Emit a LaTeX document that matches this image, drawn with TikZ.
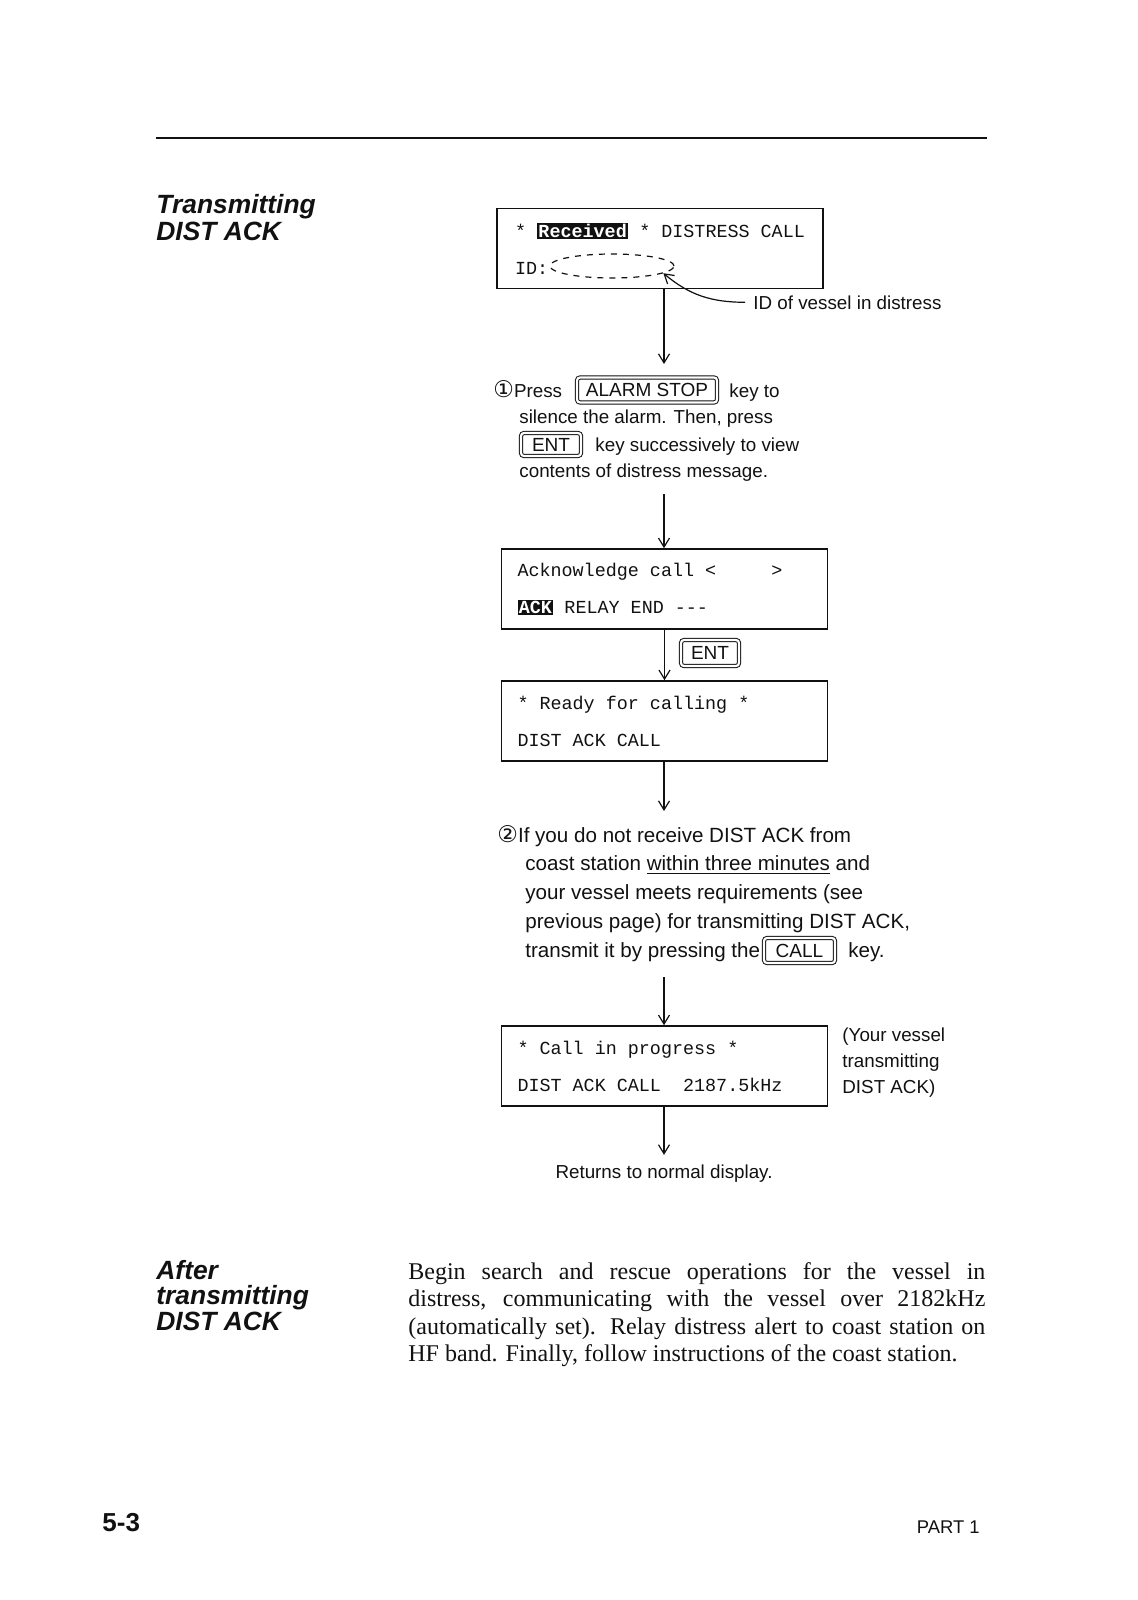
\documentclass[tikz,border=0pt]{standalone}
\usepackage{fontspec}
\setmainfont{Liberation Serif}
\setsansfont{Liberation Sans}
\setmonofont{Liberation Mono}
\newfontfamily\circfont{DejaVu Sans}
\usepackage{tikz}
\usetikzlibrary{arrows.meta,positioning,shapes.geometric}
\definecolor{ink}{HTML}{111111}
\newcommand{\lcdfont}{\ttfamily\fontsize{9.2}{18.5}\selectfont}
\newcommand{\sk}{\hspace*{0.6em}}
\newcommand{\notefont}{\sffamily\fontsize{9.4}{13.2}\selectfont}
\newcommand{\stepfont}{\sffamily\fontsize{10.3}{14}\selectfont}
\newcommand{\headfont}{\sffamily\bfseries\itshape\fontsize{13.2}{13.3}\selectfont}
\newcommand{\keyfont}{\sffamily\fontsize{9.5}{10}\selectfont}
\newcommand{\circnum}[1]{{\circfont\fontsize{11.5}{12}\selectfont #1}}
\newcommand{\revvideo}[1]{{\setlength{\fboxsep}{0.7pt}\colorbox{ink}{\textcolor{white}{\bfseries #1}}}}
\tikzset{
  lcdbox/.style={draw=ink, line width=0.8pt, align=left, text width=147pt,
    inner xsep=8pt, minimum height=40pt, font=\lcdfont},
  keycap/.style={draw=ink, double, double distance=1.1pt, line width=0.5pt,
    rounded corners=1.5pt, inner sep=0pt, font=\keyfont},
  arr/.style={-{Straight Barb[length=4.5pt,width=5.5pt]}, line width=0.6pt, draw=ink},
  noteline/.style={anchor=base west, inner sep=0pt, font=\notefont},
  stepline/.style={anchor=base west, inner sep=0pt, font=\stepfont},
  headtext/.style={anchor=north west, inner sep=0pt, align=left, font=\headfont}
}

\begin{document}
\begin{tikzpicture}[x=0.5pt, y=-0.5pt, text=ink]
  \useasboundingbox (0,0) rectangle (1138,1600);
  \draw[ink, line width=0.8pt] (156,138) -- (987,138);
  \node[headtext] (headtx) at (156,194) {Transmitting\\DIST ACK};

  % incoming distress call
  \node[lcdbox, inner xsep=9pt, text width=145pt] (rcv) at (660,248.5)
    {*\sk\revvideo{Received}\sk*\sk DISTRESS\sk CALL\\ID:};
  \node[ellipse, draw=ink, dashed, line width=0.6pt, minimum width=62pt,
    minimum height=12pt, inner sep=0pt] (idfield) at (612,266) {};
  \node[noteline, inner xsep=4pt] (idnote) at (745,309) {ID of vessel in distress};
  \draw[arr] (idnote.west) to[out=180, in=-40] (idfield.-8);

  % step 1
  \coordinate (s1in) at (664,364);
  \draw[arr] (rcv.south -| s1in) -- (s1in);
  \node[noteline] (press) at (493,397) {\circnum{①}Press};
  \node[keycap, minimum width=70pt, minimum height=12.5pt] (alarmkey) at (647,390) {ALARM STOP};
  \node[noteline] (keyto) at (729,397) {key to};
  \node[noteline] (silence) at (519,423) {silence the alarm. Then, press};
  \node[keycap, minimum width=30pt, minimum height=11.5pt] (entkey) at (551,444.5) {ENT};
  \node[noteline] (succ) at (595,451) {key successively to view};
  \node[noteline] (contents) at (519,477) {contents of distress message.};

  % acknowledge menu
  \coordinate (s1out) at (664,494);
  \node[lcdbox] (ack) at (664.5,589)
    {Acknowledge\sk call\sk<\sk\sk\sk\sk\sk>\\\revvideo{ACK}\sk RELAY\sk END\sk-{}-{}-};
  \draw[arr] (s1out) -- (s1out |- ack.north);
  \node[lcdbox] (ready) at (664.5,721) {*\sk Ready\sk for\sk calling\sk*\\DIST\sk ACK\sk CALL};
  \draw[arr] (ack) -- (ready);
  \node[keycap, minimum width=29pt, minimum height=13pt] (entkey2) at (710,653) {ENT};

  % step 2
  \coordinate (s2in) at (664,811);
  \draw[arr] (ready.south -| s2in) -- (s2in);
  \node[stepline] (cond1) at (497,842) {\circnum{②}If you do not receive DIST ACK from};
  \node[stepline] (cond2) at (525,870) {coast station \underline{within three minutes} and};
  \node[stepline] (cond3) at (525,899) {your vessel meets requirements (see};
  \node[stepline] (cond4) at (525,928) {previous page) for transmitting DIST ACK,};
  \node[stepline] (cond5) at (525,957) {transmit it by pressing the};
  \node[keycap, minimum width=35.5pt, minimum height=12.5pt] (callkey) at (799.5,950.5) {CALL};
  \node[stepline] (keydot) at (848,957) {key.};

  % call in progress
  \coordinate (s2out) at (664,977);
  \node[lcdbox] (prog) at (664.5,1066)
    {*\sk Call\sk in\sk progress\sk*\\DIST\sk ACK\sk CALL\sk\sk 2187.5kHz};
  \draw[arr] (s2out) -- (s2out |- prog.north);
  \node[anchor=north west, inner sep=0pt, align=left, font=\notefont] (txnote) at (842,1027)
    {(Your vessel\\transmitting\\DIST ACK)};
  \node[inner xsep=0pt, inner ysep=5pt, font=\notefont] (back) at (664,1174) {Returns to normal display.};
  \draw[arr] (prog.south -| back) -- (back.north);

  % after transmitting
  \node[headtext, font=\sffamily\bfseries\itshape\fontsize{13.2}{12.7}\selectfont] (headafter) at (156,1260)
    {After\\transmitting\\DIST ACK};
  \node[anchor=north west, inner sep=0pt, text width=288.5pt, align=justify,
    font=\rmfamily\fontsize{12}{13.75}\selectfont] (body) at (408,1262)
    {Begin search and rescue operations for the vessel in\linebreak
     distress, communicating with the vessel over 2182kHz\linebreak
     (automatically set). Relay distress alert to coast station on\linebreak
     HF band. Finally, follow instructions of the coast station.};

  \node[anchor=base west, inner sep=0pt, font=\sffamily\bfseries\fontsize{13}{14}\selectfont] (pagenum) at (102,1531) {5-3};
  \node[anchor=base east, inner sep=0pt, font=\sffamily\fontsize{9.2}{10}\selectfont] (part) at (980,1533) {PART 1};
\end{tikzpicture}
\end{document}
